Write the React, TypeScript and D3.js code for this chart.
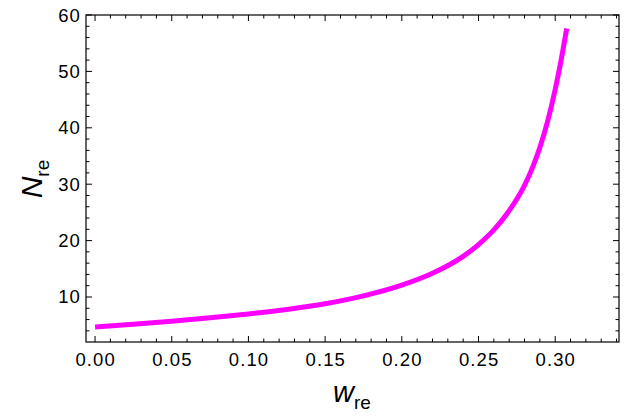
import React from "react";
import * as d3 from "d3";

const wValues = [0, 0.025, 0.05, 0.075, 0.1, 0.125, 0.15, 0.175, 0.2, 0.22, 0.24, 0.25, 0.26, 0.27, 0.28, 0.285, 0.29, 0.295, 0.3, 0.304, 0.3075];
const nValues = [4.7, 5.15, 5.7, 6.3, 7.0, 7.8, 8.8, 10.2, 12.1, 14.2, 17.2, 19.3, 21.9, 25.3, 29.8, 32.8, 36.5, 41.1, 46.8, 52.2, 57.6];
const xMajor = [0, 0.05, 0.1, 0.15, 0.2, 0.25, 0.3];
const xLabels = ["0.00", "0.05", "0.10", "0.15", "0.20", "0.25", "0.30"];
const yMajor = [10, 20, 30, 40, 50, 60];
const yLabels = ["10", "20", "30", "40", "50", "60"];

const W = 634, H = 418;
const L = 86, R = 619, T = 15, B = 342;

export default function App() {
  const x = d3.scaleLinear().domain([-0.0059, 0.3416]).range([L, R]);
  const y = d3.scaleLinear().domain([2.02, 60]).range([B, T]);
  const xMinor = d3.range(0, 35).map(i => i / 100).filter(v => v <= 0.3416 && !xMajor.some(m => Math.abs(m - v) < 1e-9));
  const yMinor = d3.range(2, 61, 2).filter(v => v % 10 !== 0 && v > 2.02);
  const pts = wValues.map((w, i) => [x(w), y(nValues[i])] as [number, number]);
  const line = d3.line().curve(d3.curveMonotoneX)(pts) || "";
  const font = "'Liberation Sans', Arial, Helvetica, sans-serif";
  const major = 6, minor = 3.5;
  return (
    <svg width={W} height={H} style={{ position: "absolute", left: 0, top: 0, background: "#fff" }}>
      <rect x={L} y={T} width={R - L} height={B - T} fill="none" stroke="#000" strokeWidth={1.2} />
      {xMajor.map((v, i) => (
        <g key={"xm" + i}>
          <line x1={x(v)} x2={x(v)} y1={B} y2={B - major} stroke="#000" strokeWidth={1} />
          <line x1={x(v)} x2={x(v)} y1={T} y2={T + major} stroke="#000" strokeWidth={1} />
          <text x={x(v) + 0.6} y={366} textAnchor="middle" fontFamily={font} fontSize={18.5} letterSpacing={1.1}>{xLabels[i]}</text>
        </g>
      ))}
      {xMinor.map((v, i) => (
        <g key={"xn" + i}>
          <line x1={x(v)} x2={x(v)} y1={B} y2={B - minor} stroke="#000" strokeWidth={1} />
          <line x1={x(v)} x2={x(v)} y1={T} y2={T + minor} stroke="#000" strokeWidth={1} />
        </g>
      ))}
      {yMajor.map((v, i) => (
        <g key={"ym" + i}>
          <line x1={L} x2={L + major} y1={y(v)} y2={y(v)} stroke="#000" strokeWidth={1} />
          <line x1={R} x2={R - major} y1={y(v)} y2={y(v)} stroke="#000" strokeWidth={1} />
          <text x={81} y={y(v) + 6.5} textAnchor="end" fontFamily={font} fontSize={18.5} letterSpacing={1.1}>{yLabels[i]}</text>
        </g>
      ))}
      {yMinor.map((v, i) => (
        <g key={"yn" + i}>
          <line x1={L} x2={L + minor} y1={y(v)} y2={y(v)} stroke="#000" strokeWidth={1} />
          <line x1={R} x2={R - minor} y1={y(v)} y2={y(v)} stroke="#000" strokeWidth={1} />
        </g>
      ))}
      <path d={line} fill="none" stroke="#FF00FF" strokeWidth={5} />
      <text x={352} y={402} textAnchor="middle" fontFamily={font} fontSize={29}>
        <tspan fontStyle="italic">w</tspan>
        <tspan fontSize={19} dy={7}>re</tspan>
      </text>
      <text transform="translate(42,179) rotate(-90)" textAnchor="middle" fontFamily={font} fontSize={30}>
        <tspan fontStyle="italic">N</tspan>
        <tspan fontSize={19} dy={7}>re</tspan>
      </text>
    </svg>
  );
}
